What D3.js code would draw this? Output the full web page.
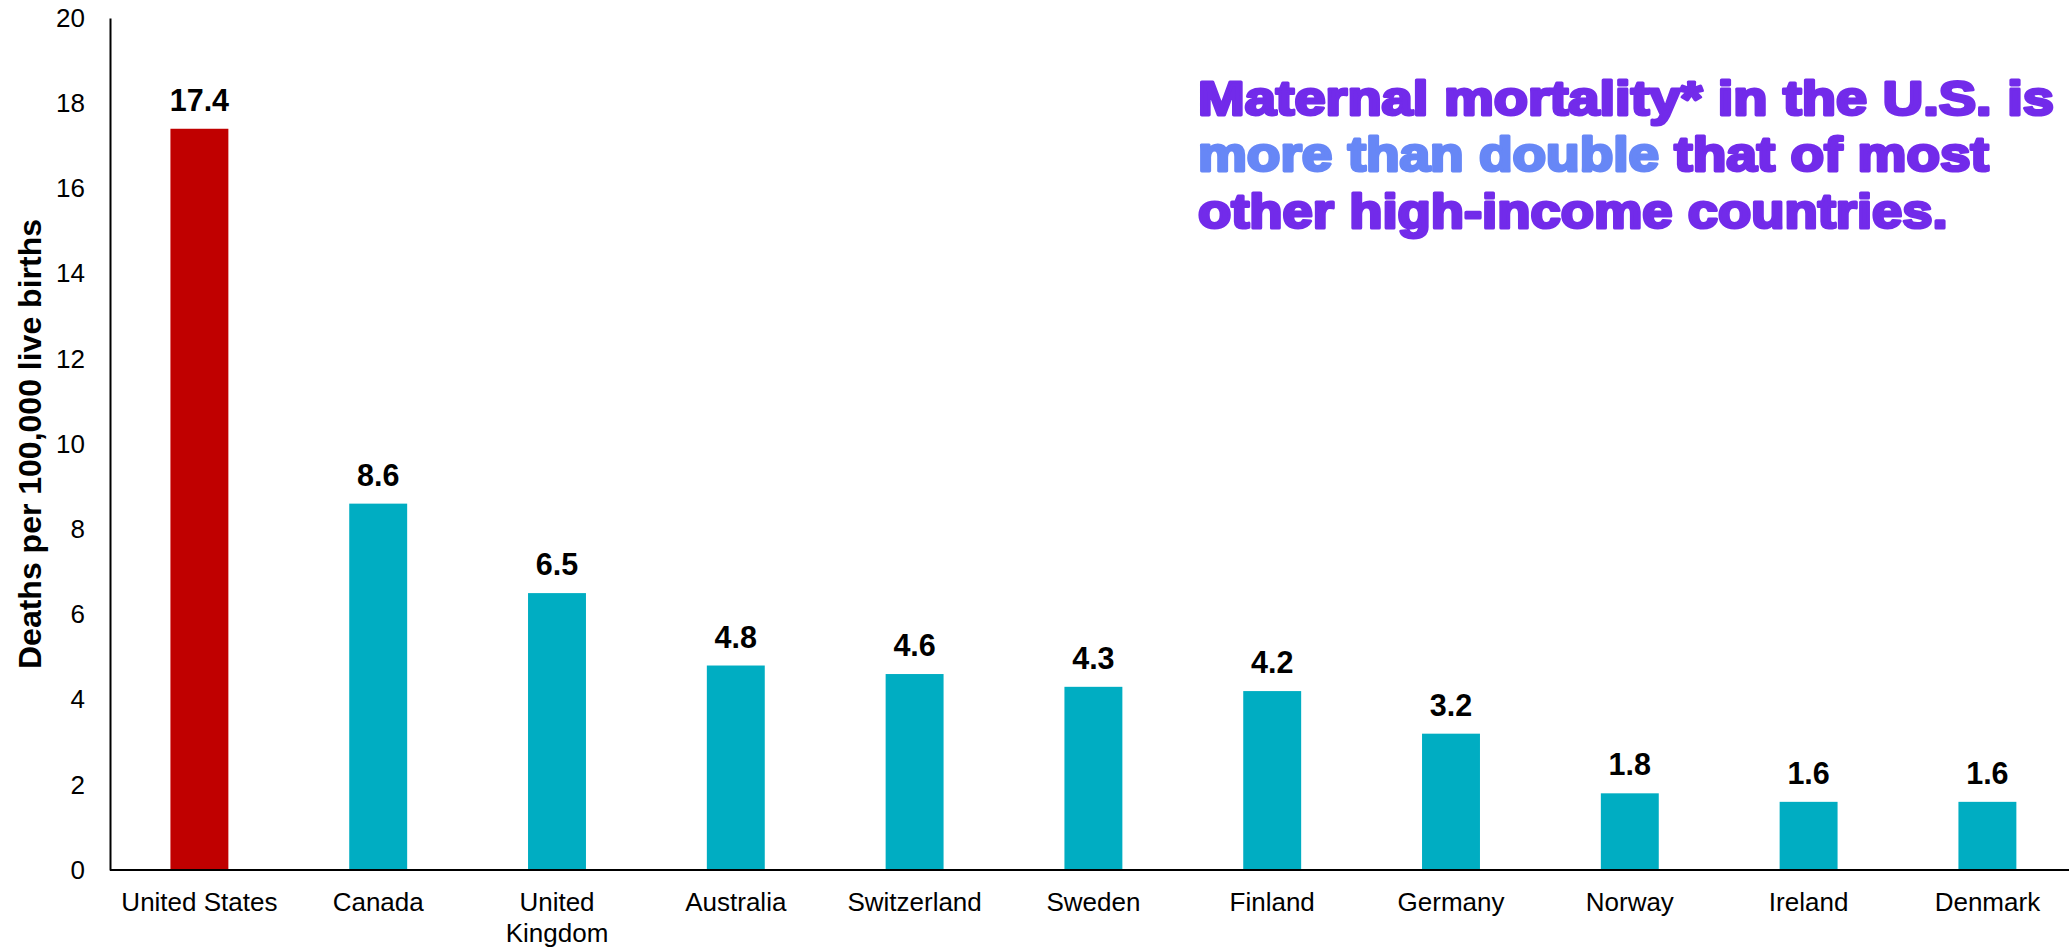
<!DOCTYPE html>
<html>
<head>
<meta charset="utf-8">
<script src="https://cdn.jsdelivr.net/npm/d3@7"></script>
<style>
  html, body { margin: 0; padding: 0; background: #fff; }
  svg { display: block; font-family: "Liberation Sans", Arial, sans-serif; }
</style>
</head>
<body>
<svg id="chart" width="2069" height="947"></svg>
<script>
// Maternal deaths per 100,000 live births, by country
const countries = ["United States", "Canada", "United Kingdom", "Australia", "Switzerland",
  "Sweden", "Finland", "Germany", "Norway", "Ireland", "Denmark"];
const deathRates = [17.4, 8.6, 6.5, 4.8, 4.6, 4.3, 4.2, 3.2, 1.8, 1.6, 1.6];
const yTicks = [0, 2, 4, 6, 8, 10, 12, 14, 16, 18, 20];
const yAxisTitle = "Deaths per 100,000 live births";
const headlineLines = [
  [{ t: "Maternal mortality* in the U.S. is", c: "purple" }],
  [{ t: "more than double", c: "blue" }, { t: " that of most", c: "purple" }],
  [{ t: "other high-income countries.", c: "purple" }]
];

const colors = { us: "#C00000", other: "#00ADC2", purple: "#722BEA", blue: "#6787F6" };

const svg = d3.select("#chart");
const margin = { left: 110, top: 18, bottom: 870 };

const x = d3.scaleBand()
  .domain(countries)
  .range([margin.left, margin.left + 11 * 178.8])
  .paddingInner(0.676)
  .paddingOuter(0.338);

const y = d3.scaleLinear().domain([0, 20]).range([margin.bottom, margin.top]);

// bars
svg.append("g").selectAll("rect")
  .data(countries)
  .join("rect")
  .attr("x", d => x(d))
  .attr("width", x.bandwidth())
  .attr("y", (d, i) => y(deathRates[i]))
  .attr("height", (d, i) => y(0) - y(deathRates[i]))
  .attr("fill", (d, i) => i === 0 ? colors.us : colors.other);

// value labels
svg.append("g").selectAll("text")
  .data(countries)
  .join("text")
  .attr("x", d => x(d) + x.bandwidth() / 2)
  .attr("y", (d, i) => y(deathRates[i]) - 18)
  .attr("text-anchor", "middle")
  .attr("font-size", 30.5)
  .attr("font-weight", "bold")
  .attr("fill", "#000")
  .text((d, i) => deathRates[i].toFixed(1));

// y axis
const yAxis = svg.append("g")
  .attr("transform", `translate(${margin.left},0)`)
  .call(d3.axisLeft(y).tickValues(yTicks).tickSize(0).tickPadding(25).tickFormat(d3.format("d")));
yAxis.select(".domain").attr("stroke", "#000").attr("stroke-width", 2);
yAxis.selectAll("text")
  .attr("font-size", 26)
  .attr("font-family", "'Liberation Sans', Arial, sans-serif")
  .attr("fill", "#000");

// x axis
const xAxis = svg.append("g")
  .attr("transform", `translate(0,${margin.bottom})`)
  .call(d3.axisBottom(x).tickSize(0).tickPadding(0).tickFormat(() => ""));
xAxis.select(".domain").attr("d", `M${margin.left},0H2069`).attr("stroke", "#000").attr("stroke-width", 2);
xAxis.selectAll(".tick text").each(function (d) {
  const words = d === "United Kingdom" ? ["United", "Kingdom"] : [d];
  const t = d3.select(this)
    .attr("font-size", 26)
    .attr("font-family", "'Liberation Sans', Arial, sans-serif")
    .attr("fill", "#000")
    .attr("y", 41)
    .attr("dy", null);
  words.forEach((w, i) => {
    t.append("tspan").attr("x", 0).attr("dy", i === 0 ? 0 : 31).text(w);
  });
});

// y axis title
svg.append("text")
  .attr("transform", "translate(41,444) rotate(-90)")
  .attr("text-anchor", "middle")
  .attr("font-size", 32)
  .attr("font-weight", "bold")
  .attr("fill", "#000")
  .text(yAxisTitle);

// headline: heavy wide lettering, each line stretched to its set width
const baselines = [115, 171.5, 228];
const lineWidths = [856, 791, 750];
headlineLines.forEach((parts, li) => {
  const g = svg.append("g");
  const t = g.append("text")
    .attr("x", 0)
    .attr("y", baselines[li])
    .attr("font-size", 48)
    .attr("font-weight", "bold")
    .attr("stroke-width", 3)
    .attr("stroke-linejoin", "round");
  parts.forEach(p => {
    t.append("tspan")
      .attr("fill", colors[p.c])
      .attr("stroke", colors[p.c])
      .text(p.t);
  });
  const w = t.node().getComputedTextLength();
  g.attr("transform", `translate(1198,0) scale(${lineWidths[li] / w},1)`);
});
</script>
</body>
</html>
